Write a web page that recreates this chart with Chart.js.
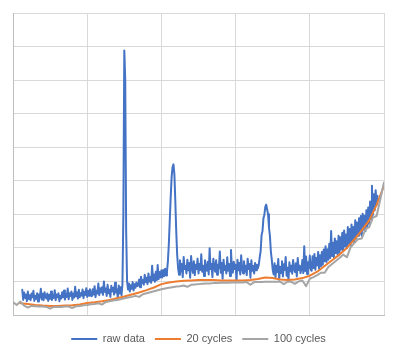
<!DOCTYPE html>
<html>
<head>
<meta charset="utf-8">
<script src="https://cdn.jsdelivr.net/npm/chart.js@4/dist/chart.umd.min.js"></script>
<style>
html,body{margin:0;padding:0;background:#fff;}
#c{display:block;}
</style>
</head>
<body>
<canvas id="c" width="398" height="360"></canvas>
<script>
// Series names
const seriesNames = ["raw data", "20 cycles", "100 cycles"];

// Raw data: x starts at 1.25, step 0.125
const rawStart = 1.25;
const rawStep = 0.125;
const rawValues = [
  75, 45, 67, 51, 61, 41, 70, 48, 59, 44,
  64, 53, 72, 42, 57, 48, 65, 40, 61, 52,
  78, 46, 63, 44, 68, 55, 49, 64, 42, 60,
  48, 70, 45, 59, 51, 74, 44, 61, 53, 65, 41, 57,
  49, 68, 53, 73, 46, 62, 54, 79, 47, 65,
  57, 70, 45, 64, 52, 84, 56, 68, 49, 75,
  53, 65, 58, 76, 50, 69, 60, 80, 54, 72, 57, 77, 62,
  56, 77, 61, 86, 53, 72, 64, 94, 59, 80,
  67, 83, 60, 100, 69, 79, 57, 90, 65, 75,
  54, 87, 71, 81, 61, 96, 67, 77, 52, 88, 64, 83, 59, 91,
  300, 788, 700, 250, 100,
  76, 94, 70, 89, 78, 98, 73, 92, 81, 97, 86,
  88, 106, 83, 114, 95, 104, 90, 120, 98, 111,
  92, 124, 100, 113, 96, 147, 104, 121, 99, 129,
  104, 149, 107, 128, 112, 133,
  112, 134, 116, 138, 118, 129,
  160, 210, 280, 350, 410, 440, 449, 420, 340, 250, 180, 140,
  120, 163, 129, 152, 113, 173, 137, 146, 124, 165,
  133, 155, 111, 176, 142, 126, 160, 119, 150, 137,
  168, 124, 152, 134, 181, 129, 147, 116, 163, 139,
  132, 159, 121, 199, 137, 152, 113, 168, 142, 129,
  163, 120, 150, 139, 189, 126, 155, 108, 165, 134,
  146, 124, 172, 132, 152, 116, 194, 139, 126, 159,
  137, 150, 103, 165, 133, 155, 121, 178, 139, 124,
  160, 129, 147, 119, 168, 137, 152, 111, 163, 132,
  146, 124, 155, 133, 150, 139,
  150, 172, 190, 238, 250, 288, 298, 322, 329, 315, 300, 260, 236, 190, 165, 135,
  121, 154, 112, 147, 128, 167, 105, 144, 125, 160,
  115, 151, 134, 173, 117, 141, 102, 157, 130, 147,
  123, 164, 138, 128, 154, 115, 170, 134, 147, 125,
  138, 164, 125, 205, 131, 174, 122, 157, 140, 177, 135,
  132, 175, 140, 182, 135, 170, 148, 188, 138, 178,
  145, 188, 150, 195, 160, 205, 158, 196, 165, 212,
  170, 250, 176, 215, 172, 228, 185, 220, 180, 236,
  186, 232, 195, 245, 190, 252, 205, 240, 200, 262,
  212, 256, 208, 270, 220, 262, 216, 282, 228, 276,
  236, 288, 242, 295, 236, 302, 254, 296, 250, 312,
  265, 320, 272, 338, 285, 385, 298, 360, 312, 372, 328, 355
];

// 20 cycles: x starts at 1, step 1
const avg20Start = 1;
const avg20Step = 1;
const avg20Values = [
  35, 33, 30, 28, 27, 27, 28, 29, 31, 36,
  38, 41, 45, 50, 55, 61, 67, 74, 82, 92,
  97, 100, 102, 103, 104, 104, 104, 103, 103, 103,
  103, 104, 107, 112, 110, 106, 104, 106, 110, 117,
  129, 146, 163, 180, 200, 225, 252, 282, 328, 385
];

// 100 cycles: x starts at 0, step 0.5
const avg100Start = 0;
const avg100Step = 0.5;
const avg100Values = [
  38, 30, 40, 28, 22, 27, 26, 25, 25, 24,
  19, 24, 24, 24, 25, 25, 21, 26, 27, 29,
  30, 32, 33, 35, 31, 39, 41, 43, 45, 47,
  50, 52, 54, 57, 54, 62, 65, 68, 71, 74,
  77, 79, 81, 83, 85, 86, 88, 84, 90, 91,
  92, 93, 94, 94, 95, 95, 96, 96, 96, 97,
  97, 97, 97, 98, 90, 98, 98, 98, 99, 99,
  99, 99, 99, 92, 99, 99, 93, 100, 103, 86,
  108, 113, 119, 126, 126, 143, 152, 161, 170, 180,
  172, 202, 214, 226, 228, 255, 262, 290, 295, 345,
  395
];

// Axis ranges
const xMin = 0, xMax = 50, xGridStep = 10;
const yMin = 0, yMax = 900, yGridStep = 100;

function toPoints(start, step, values) {
  return values.map((v, i) => ({ x: start + i * step, y: v }));
}

const ctx = document.getElementById('c').getContext('2d');
new Chart(ctx, {
  type: 'line',
  data: {
    datasets: [
      {
        label: seriesNames[0],
        data: toPoints(rawStart, rawStep, rawValues),
        borderColor: '#4472C4',
        backgroundColor: '#4472C4',
        borderWidth: 2,
        order: 3
      },
      {
        label: seriesNames[1],
        data: toPoints(avg20Start, avg20Step, avg20Values),
        borderColor: '#ED7D31',
        backgroundColor: '#ED7D31',
        borderWidth: 2,
        order: 2
      },
      {
        label: seriesNames[2],
        data: toPoints(avg100Start, avg100Step, avg100Values),
        borderColor: '#A5A5A5',
        backgroundColor: '#A5A5A5',
        borderWidth: 2,
        order: 1
      }
    ]
  },
  options: {
    responsive: false,
    animation: false,
    devicePixelRatio: 1,
    elements: {
      point: { radius: 0, hoverRadius: 0 },
      line: { tension: 0, borderJoinStyle: 'round', borderCapStyle: 'round' }
    },
    layout: { padding: { left: 13, right: 14, top: 13, bottom: 5.5 } },
    plugins: {
      tooltip: { enabled: false },
      legend: {
        position: 'bottom',
        labels: {
          usePointStyle: true,
          pointStyle: 'line',
          pointStyleWidth: 26,
          padding: 10,
          color: '#595959',
          font: { family: '"Liberation Sans", Arial, sans-serif', size: 11 },
          sort: (a, b) => a.datasetIndex - b.datasetIndex
        }
      }
    },
    scales: {
      x: {
        type: 'linear',
        min: xMin,
        max: xMax,
        ticks: { display: false, stepSize: xGridStep },
        grid: { color: '#d9d9d9', lineWidth: 1, drawTicks: false },
        border: { display: true, color: '#bfbfbf', width: 1 },
        afterFit: (s) => { s.height = 8.5; }
      },
      y: {
        type: 'linear',
        min: yMin,
        max: yMax,
        ticks: { display: false, stepSize: yGridStep },
        grid: { color: '#d9d9d9', lineWidth: 1, drawTicks: false },
        border: { display: true, color: '#bfbfbf', width: 1 }
      }
    }
  }
});
</script>
</body>
</html>
